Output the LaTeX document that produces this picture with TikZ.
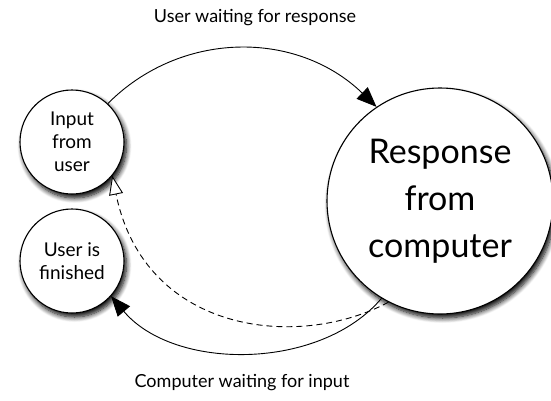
\documentclass[tikz,border=0pt]{standalone}
\usepackage{fontspec}
\setmainfont{Lato}
\usetikzlibrary{arrows.meta,shadows.blur}
\begin{document}
\begin{tikzpicture}[x=1pt,y=-1pt,
  state/.style={circle,draw=black,line width=1.1pt,fill=white,align=center,
    inner sep=0pt,
    blur shadow={shadow xshift=2.5pt,shadow yshift=-4pt,shadow blur radius=5pt,
      shadow blur steps=8,shadow opacity=100}},
  flow/.style={line width=0.9pt,-{Triangle[length=20pt,width=16pt]}},
  back/.style={line width=0.9pt,dashed,dash pattern=on 6pt off 4pt,
    -{Triangle[open,length=19pt,width=14pt,fill=white,line width=0.9pt]}},
  caption/.style={font=\fontsize{18}{22}\selectfont}]
\useasboundingbox (0,0) rectangle (551,400);

\node[state,minimum size=104pt,font=\fontsize{19}{23}\selectfont] (inp) at (72,142) {Input\\from\\user};
\node[state,minimum size=104pt,font=\fontsize{19}{23}\selectfont] (fin) at (72,261) {User is\\finished};
\node[state,minimum size=226pt,font=\fontsize{34}{47}\selectfont] (resp) at (440,201) {Response\\from\\computer};

\node[caption] (top) at (255,18) {User waiting for response};
\node[caption] (bot) at (242,383) {Computer waiting for input};

\draw[flow] (inp.47) .. controls (181,30) and (297,30) .. (resp.124);
\draw[flow] (resp.-121) .. controls (320,371) and (174,371) .. (fin.-42);
\draw[back] (resp.-117) .. controls (300,350) and (145,335) .. (inp.-40);
\end{tikzpicture}
\end{document}
